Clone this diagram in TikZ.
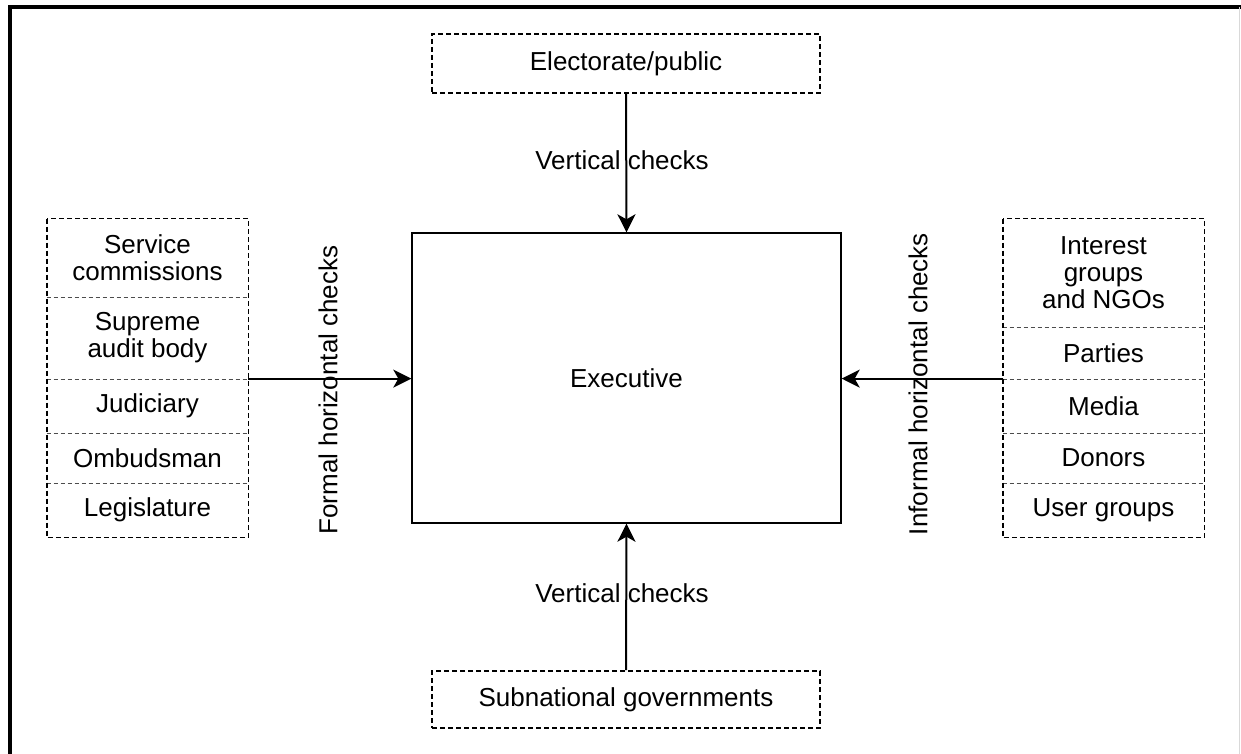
\documentclass[tikz,border=0pt]{standalone}
\usepackage{fontspec}
\setmainfont{Liberation Sans}
\usetikzlibrary{arrows.meta}
\tikzset{
  lbl/.style={font=\fontsize{13}{13.5}\selectfont, align=center, inner sep=0pt},
  cell/.style={lbl, minimum width=100.5pt, inner sep=0pt},
  divider/.style={draw=black!70, line width=0.5pt, dash pattern=on 2pt off 1.5pt},
  grp/.style={draw=black, line width=0.9pt, dash pattern=on 2.5pt off 1.5pt},
  exbox/.style={lbl, draw=black, line width=0.7pt, minimum width=214.5pt, minimum height=145pt},
  chk/.style={draw=black, line width=1pt, -{Stealth[length=9pt,width=9pt,inset=2.5pt]}},
  lab/.style={lbl}
}
\begin{document}
\begin{tikzpicture}[x=0.5pt,y=-0.5pt]
\useasboundingbox (0,0) rectangle (1241,754);
% outer frame
\draw[line width=1.6pt] (10,754) -- (10,7) -- (1241,7);
\draw[black!15, line width=0.6pt] (1239.5,7) -- (1239.5,754);

% executive
\node[exbox] (exec) at (626.5,378) {Executive};

% top and bottom
\node[lbl, grp, minimum width=194pt, minimum height=29.5pt] (elect) at (626,63.5) {Electorate/public};
\node[lbl, grp, minimum width=194pt, minimum height=28.5pt] (subn) at (626,699.5) {Subnational governments};

% left stack
\node[cell, minimum height=39pt] (l1) at (147.5,258) {Service\\commissions};
\node[cell, minimum height=41pt] (l2) at (147.5,338) {Supreme\\audit body};
\node[cell, minimum height=27pt] (l3) at (147.5,406) {Judiciary};
\node[cell, minimum height=25pt] (l4) at (147.5,458) {Ombudsman};
\node[cell, minimum height=27pt] (l5) at (147.5,510) {Legislature};
\foreach \c in {l1,l2,l3,l4}
  \draw[divider] (\c.south west) -- (\c.south east);
\draw[grp] (l1.north west) rectangle (l5.south east);

% right stack
\node[cell, minimum height=54pt] (r1) at (1103.5,273) {Interest\\groups\\and NGOs};
\node[cell, minimum height=26pt] (r2) at (1103.5,353) {Parties};
\node[cell, minimum height=27pt] (r3) at (1103.5,406) {Media};
\node[cell, minimum height=25pt] (r4) at (1103.5,458) {Donors};
\node[cell, minimum height=27pt] (r5) at (1103.5,510) {User groups};
\foreach \c in {r1,r2,r3,r4}
  \draw[divider] (\c.south west) -- (\c.south east);
\draw[grp] (r1.north west) rectangle (r5.south east);

% connectors
\draw[chk] (elect.south) -- (exec.north);
\draw[chk] (subn.north) -- (exec.south);
\draw[chk] (l3.north east) -- (l3.north east -| exec.west);
\draw[chk] (r3.north west) -- (r3.north west -| exec.east);

% labels
\node[lab] (v1) at (622,160) {Vertical checks};
\node[lab] (v2) at (622,593) {Vertical checks};
\node[lab, rotate=90] (fh) at (328,390) {Formal horizontal checks};
\node[lab, rotate=90] (ih) at (918,384) {Informal horizontal checks};
\end{tikzpicture}
\end{document}
